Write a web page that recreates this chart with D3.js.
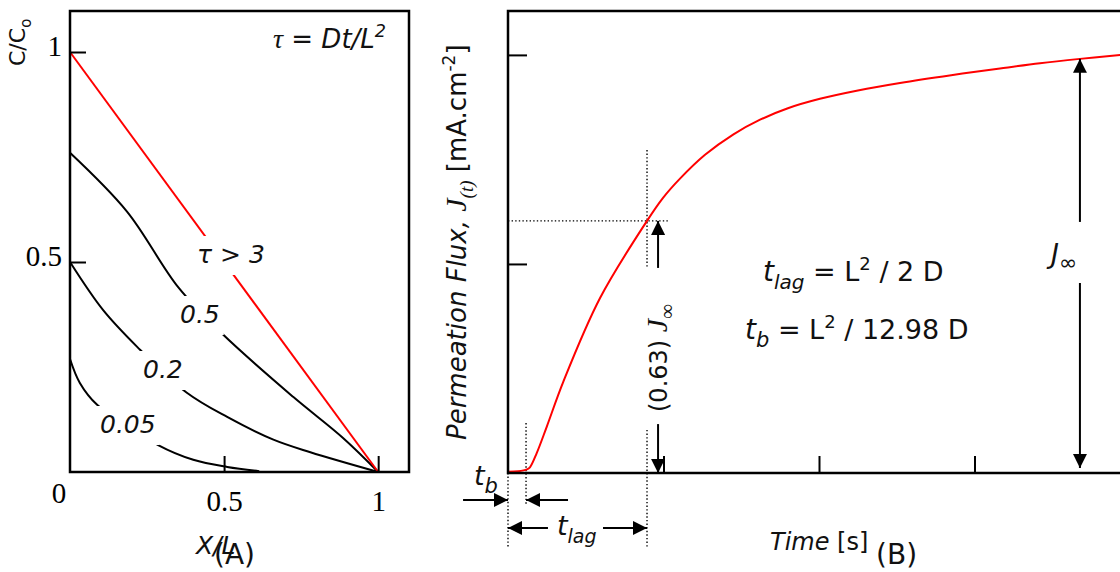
<!DOCTYPE html>
<html>
<head>
<meta charset="utf-8">
<script src="https://cdn.jsdelivr.net/npm/d3@7/dist/d3.min.js"></script>
<style>
  html, body { margin: 0; padding: 0; background: #fff; }
  svg { display: block; }
</style>
</head>
<body>
<svg id="chart" width="1120" height="572"></svg>
<script>
// ---------- Panel A: concentration profiles C/Co vs X/L ----------
const profileLabels = ["τ > 3", "0.5", "0.2", "0.05"];
const steadyX = [0, 1];
const steadyC = [1, 0];
const tau05X = [0, 0.185, 0.351, 0.494, 0.724, 0.886, 1];
const tau05C = [0.76, 0.62, 0.44, 0.329, 0.179, 0.081, 0];
const tau02X = [0, 0.107, 0.218, 0.377, 0.51, 0.66, 0.78, 1];
const tau02C = [0.5, 0.386, 0.298, 0.19, 0.131, 0.077, 0.047, 0];
const tau005X = [0, 0.032, 0.088, 0.286, 0.4, 0.51, 0.614];
const tau005C = [0.269, 0.212, 0.16, 0.064, 0.029, 0.012, 0.002];
const ticksA = [0.5, 1];

// ---------- Panel B: permeation transient J(t) ----------
const fluxTime = [0, 0.064, 0.122, 0.141, 0.184, 0.249, 0.356, 0.592, 0.894, 0.997, 1.106,
                  1.267, 1.45, 1.621, 1.8, 2.006, 2.25, 2.521, 2.85, 3.164, 3.421, 3.678, 3.936, 4.0];
const fluxValue = [0.006, 0.008, 0.017, 0.027, 0.094, 0.221, 0.437, 0.837, 1.206, 1.316, 1.408,
                   1.522, 1.62, 1.69, 1.745, 1.79, 1.83, 1.866, 1.903, 1.935, 1.96, 1.981, 2.0, 2.004];
const timeTicks = [1, 2, 3];
const fluxTicks = [1, 2];
const tBreak = 0.116;      // breakthrough time t_b
const tLag = 0.894;        // time lag t_lag
const lagFlux = 1.206;     // (0.63) J∞
const tSteady = 3.678;     // where J∞ is marked
const steadyFlux = 1.981;  // J∞

const SANS = "DejaVu Sans";
const SERIF = "Liberation Serif";

const svg = d3.select("#chart");

// arrowhead marker
svg.append("defs").append("marker")
  .attr("id", "head")
  .attr("viewBox", "0 0 14 14")
  .attr("refX", 14).attr("refY", 7)
  .attr("markerWidth", 14).attr("markerHeight", 14)
  .attr("markerUnits", "userSpaceOnUse")
  .attr("orient", "auto")
  .append("path").attr("d", "M0,0 L14,7 L0,14 Z").attr("fill", "#000");

// rich text helper: parts with italic / sub / sup / family
function rich(textSel, parts, base) {
  let shift = 0;
  parts.forEach(p => {
    const ts = textSel.append("tspan").text(p.t);
    ts.attr("font-size", p.size || (p.sub || p.sup ? base * 0.68 : base));
    if (p.italic) ts.attr("font-style", "italic");
    if (p.family) ts.attr("font-family", p.family);
    const target = p.sub ? base * 0.28 : (p.sup ? -base * 0.42 : 0);
    if (target !== shift) { ts.attr("dy", target - shift); shift = target; }
  });
  return textSel;
}

// ================= Panel A =================
const xA = d3.scaleLinear().domain([0, 1.1]).range([70, 409]);
const yA = d3.scaleLinear().domain([0, 1.1]).range([472, 10]);
const gA = svg.append("g");

const lineA = d3.line().x(d => xA(d[0])).y(d => yA(d[1])).curve(d3.curveCatmullRom.alpha(0.5));
const zip = (xs, ys) => xs.map((x, i) => [x, ys[i]]);

const profiles = [
  { pts: zip(tau05X, tau05C), color: "#000" },
  { pts: zip(tau02X, tau02C), color: "#000" },
  { pts: zip(tau005X, tau005C), color: "#000" },
  { pts: zip(steadyX, steadyC), color: "#ff0000" }
];
gA.selectAll("path.profile").data(profiles).join("path")
  .attr("class", "profile")
  .attr("d", d => lineA(d.pts))
  .attr("fill", "none")
  .attr("stroke", d => d.color)
  .attr("stroke-width", 2);

// curve labels with white halos that break the lines
const labelPos = [[197, 263], [180, 323], [143, 378], [100, 433]];
profileLabels.forEach((lab, i) => {
  const t = gA.append("text")
    .attr("x", labelPos[i][0]).attr("y", labelPos[i][1])
    .attr("font-family", SANS).attr("font-style", "italic")
    .attr("font-size", 25).attr("fill", "#111")
    .text(lab);
  const b = t.node().getBBox();
  gA.insert("rect", () => t.node())
    .attr("x", b.x - 4).attr("y", b.y - 4)
    .attr("width", b.width + 8).attr("height", b.height + 10)
    .attr("fill", "#fff");
});

// ticks
const axA_y = gA.append("g").attr("transform", `translate(${xA(0)},0)`)
  .call(d3.axisLeft(yA).tickValues(ticksA).tickSize(-16).tickPadding(8).tickFormat(d3.format("~g")));
const axA_x = gA.append("g").attr("transform", `translate(0,${yA(0)})`)
  .call(d3.axisBottom(xA).tickValues(ticksA).tickSize(-16).tickPadding(18).tickFormat(d3.format("~g")));
[axA_y, axA_x].forEach(ax => {
  ax.select(".domain").remove();
  ax.selectAll(".tick line").attr("stroke", "#000").attr("stroke-width", 2);
  ax.selectAll(".tick text").attr("font-family", SERIF).attr("font-size", 29).attr("fill", "#000");
});
axA_y.selectAll(".tick text").attr("dy", "0.12em");
gA.append("text").attr("x", 59).attr("y", 503).attr("text-anchor", "middle")
  .attr("font-family", SERIF).attr("font-size", 29).text("0");

// frame
gA.append("rect").attr("x", 70).attr("y", 11).attr("width", 339).attr("height", 461)
  .attr("fill", "none").attr("stroke", "#000").attr("stroke-width", 2.5);

// titles
rich(gA.append("text").attr("x", 273).attr("y", 48).attr("font-family", SANS).attr("fill", "#111"),
  [{ t: "τ", italic: true, family: SERIF, size: 28 }, { t: " = ", size: 26 }, { t: "Dt/L", italic: true },
   { t: "2", sup: true, italic: true }], 26);
rich(gA.append("text").attr("transform", "translate(25,66) rotate(-90)").attr("font-family", SANS).attr("fill", "#111"),
  [{ t: "C/C" }, { t: "o", sub: true }], 22);
gA.append("text").attr("x", 196).attr("y", 554).attr("font-family", SANS).attr("font-style", "italic")
  .attr("font-size", 25).attr("fill", "#111").text("X/L");
gA.append("text").attr("x", 214).attr("y", 564).attr("font-family", SANS)
  .attr("font-size", 28).attr("fill", "#111").text("(A)");

// ================= Panel B =================
const xB = d3.scaleLinear().domain([0, 4]).range([508, 1130]);
const yB = d3.scaleLinear().domain([0, 2.21]).range([473, 11]);
const gB = svg.append("g");

const dotted = { "stroke": "#000", "stroke-width": 1.4, "stroke-dasharray": "1.4,2.2" };
function seg(g, x1, y1, x2, y2, style, arrow) {
  const l = g.append("line").attr("x1", xB(x1)).attr("y1", yB(y1)).attr("x2", xB(x2)).attr("y2", yB(y2));
  Object.entries(style).forEach(([k, v]) => l.attr(k, v));
  if (arrow) l.attr("marker-end", "url(#head)");
  return l;
}
const solid = { "stroke": "#000", "stroke-width": 2 };

// dotted guides
seg(gB, 0, lagFlux, 1.035, lagFlux, dotted);
seg(gB, tLag, 1.545, tLag, 0.981, dotted);
seg(gB, tLag, 0.206, tLag, -0.359, dotted);
seg(gB, tBreak, 0.239, tBreak, -0.153, dotted);
seg(gB, 0, 0, 0, -0.359, dotted);

// permeation curve
const lineB = d3.line().x((d, i) => xB(fluxTime[i])).y(d => yB(d)).curve(d3.curveCatmullRom.alpha(0.5));
gB.append("path").attr("d", lineB(fluxValue)).attr("fill", "none")
  .attr("stroke", "#ff0000").attr("stroke-width", 2);

// ticks
const axB_x = gB.append("g").attr("transform", `translate(0,${yB(0)})`)
  .call(d3.axisBottom(xB).tickValues(timeTicks).tickSize(-17).tickFormat(""));
const axB_y = gB.append("g").attr("transform", `translate(${xB(0)},0)`)
  .call(d3.axisLeft(yB).tickValues(fluxTicks).tickSize(-19).tickFormat(""));
[axB_x, axB_y].forEach(ax => {
  ax.select(".domain").remove();
  ax.selectAll(".tick line").attr("stroke", "#000").attr("stroke-width", 2);
});

// frame (open to the right)
gB.append("path").attr("d", `M1125,${yB(2.21)}H${xB(0)}V${yB(0)}H1125`)
  .attr("fill", "none").attr("stroke", "#000").attr("stroke-width", 2.5);

// (0.63) J∞ arrows
const xMid = 0.965;
seg(gB, xMid, 0.981, xMid, lagFlux, solid, true);
seg(gB, xMid, 0.234, xMid, 0, solid, true);
rich(gB.append("text").attr("transform", `translate(${xB(xMid) + 9},412) rotate(-90)`).attr("font-family", SANS).attr("fill", "#111"),
  [{ t: "(0.63) " }, { t: "J", italic: true, family: SERIF, size: 30 }, { t: "∞", sub: true, family: SERIF, size: 21 }], 24);

// J∞ arrows
seg(gB, tSteady, 1.201, tSteady, steadyFlux, solid, true);
seg(gB, tSteady, 0.909, tSteady, 0.024, solid, true);
rich(gB.append("text").attr("x", 1051).attr("y", 263).attr("font-family", SANS).attr("fill", "#111"),
  [{ t: "J", italic: true, size: 27 }, { t: "∞", sub: true, italic: true, size: 22 }], 24);

// t_b and t_lag arrows
const yTb = -0.129, yLag = -0.263;
seg(gB, -0.289, yTb, 0, yTb, solid, true);
seg(gB, 0.386, yTb, tBreak, yTb, solid, true);
seg(gB, 0.257, yLag, 0, yLag, solid, true);
seg(gB, 0.611, yLag, tLag, yLag, solid, true);
rich(gB.append("text").attr("x", 474).attr("y", 485).attr("font-family", SANS).attr("fill", "#111"),
  [{ t: "t", italic: true }, { t: "b", italic: true, sub: true, size: 21 }], 27);
rich(gB.append("text").attr("x", 557).attr("y", 535).attr("font-family", SANS).attr("fill", "#111"),
  [{ t: "t", italic: true }, { t: "lag", italic: true, sub: true, size: 19 }], 27);

// formulas
rich(gB.append("text").attr("x", 763).attr("y", 281).attr("font-family", SANS).attr("fill", "#111"),
  [{ t: "t", italic: true, size: 28 }, { t: "lag", italic: true, sub: true, size: 20 }, { t: " = L" },
   { t: "2", sup: true, size: 18 }, { t: " / 2 D" }], 27);
rich(gB.append("text").attr("x", 745).attr("y", 339).attr("font-family", SANS).attr("fill", "#111"),
  [{ t: "t", italic: true, size: 28 }, { t: "b", italic: true, sub: true, size: 21 }, { t: " = L" },
   { t: "2", sup: true, size: 18 }, { t: " / 12.98 D" }], 27);

// axis titles
rich(gB.append("text").attr("transform", "translate(466,440) rotate(-90)").attr("font-family", SANS).attr("fill", "#111"),
  [{ t: "Permeation Flux, ", italic: true }, { t: "J", italic: true, family: SERIF, size: 30 },
   { t: "(t)", sub: true, italic: true, family: SERIF, size: 19 }, { t: " [mA.cm" }, { t: "-2", sup: true, size: 17 }, { t: "]" }], 26);
rich(gB.append("text").attr("x", 770).attr("y", 550).attr("font-family", SANS).attr("fill", "#111"),
  [{ t: "Time", italic: true }, { t: " [s]" }], 24);
gB.append("text").attr("x", 876).attr("y", 564).attr("font-family", SANS)
  .attr("font-size", 28).attr("fill", "#111").text("(B)");
</script>
</body>
</html>
